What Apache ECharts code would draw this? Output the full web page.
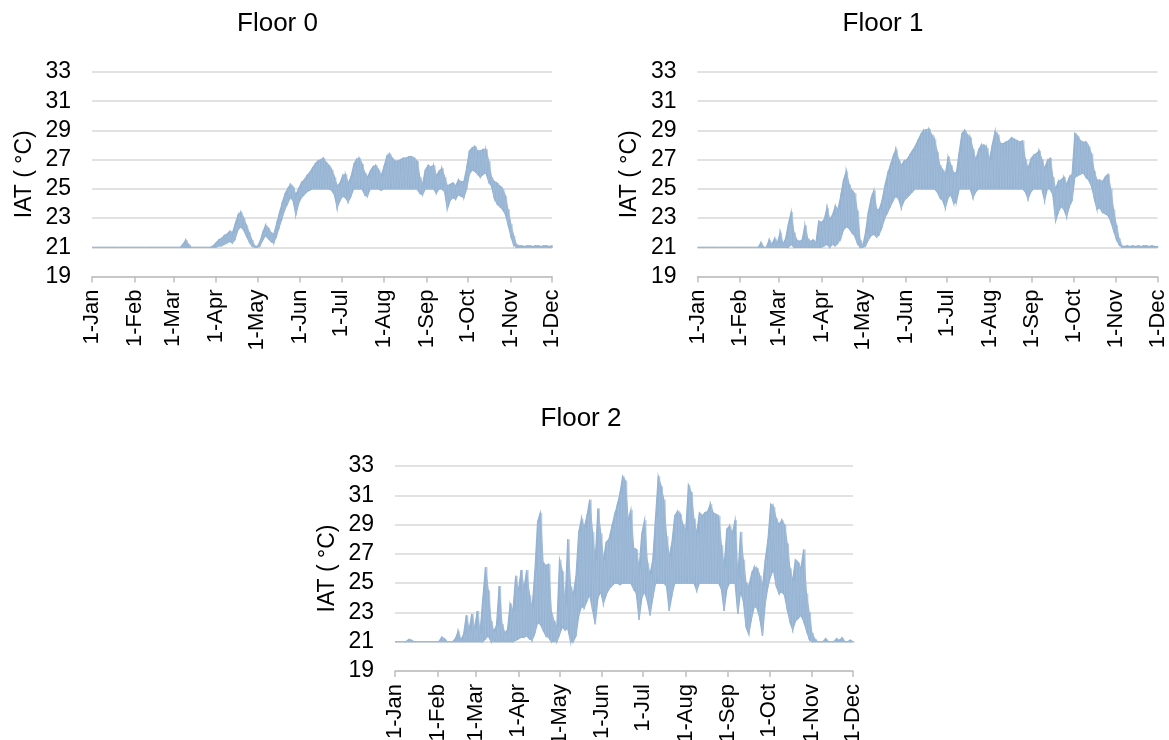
<!DOCTYPE html>
<html>
<head>
<meta charset="utf-8">
<script src="https://cdn.jsdelivr.net/npm/echarts@6/dist/echarts.min.js"></script>
<style>
  html, body { margin: 0; padding: 0; background: #fff; }
  #main { width: 1169px; height: 740px; }
</style>
</head>
<body>
<div id="main"></div>
<script>
// IAT 曲线: 每两天一个 (最低, 最高) 值, 从 1-Jan 开始
var monthDays = [0, 31, 59, 90, 120, 151, 181, 212, 243, 273, 304, 334];
var monthLabels = ['1-Jan', '1-Feb', '1-Mar', '1-Apr', '1-May', '1-Jun', '1-Jul', '1-Aug', '1-Sep', '1-Oct', '1-Nov', '1-Dec'];
var yTicks = [19, 21, 23, 25, 27, 29, 31, 33];
var titles = ['Floor 0', 'Floor 1', 'Floor 2'];

var floor0Low = [
  21,21,21,21,21,21,21,21,21,21,
  21,21,21,21,21,21,21,21,21,21,
  21,21,21,21,21,21,21,21,21,21,
  21,21,21,21,21,21,21,21,21,21,
  21,21,21,21,21,21,21.1,21.1,21.2,21.3,
  21.4,21.3,21.6,22.2,22.4,22.2,21.8,21.4,21.1,21.0,
  21,21.1,21.5,21.8,21.6,21.4,21.3,21.8,22.4,23.0,
  23.6,24.0,24.4,24.2,23.2,24.0,24.4,24.6,24.8,24.9,
  25,25,25,25,25,25,25,24.9,24.6,23.7,
  24.2,24.5,24.4,24.1,24.5,25,25,25,25,24.6,
  24.5,25,25,25,25,24.9,25,25,25,25,
  25,25,25,25,25,25,25,25,25,24.7,
  24.6,25,25,25,25,24.7,25,25,24.8,23.6,
  24.2,24.4,24.3,24.6,24.5,24.4,25.0,26.0,26.3,26.2,
  26.0,25.8,26.0,26.1,25.5,25.2,24.4,24.0,23.8,23.6,
  23.3,22.6,21.8,21.2,21.0,21,21,21,21,21,
  21,21,21,21,21,21,21,21
];
var floor0High = [
  21,21,21,21,21,21,21,21,21,21,
  21,21,21,21,21,21,21,21,21,21,
  21,21,21,21,21,21,21,21,21,21,
  21,21,21,21.2,21.5,21.2,21,21,21,21,
  21,21,21,21,21.1,21.3,21.5,21.6,21.8,21.9,
  22.1,22.0,22.6,23.2,23.4,23.0,22.5,22.0,21.5,21.1,
  21.05,21.4,22.0,22.5,22.3,22.0,21.9,22.6,23.3,24.0,
  24.6,25.0,25.3,25.1,24.6,25.0,25.4,25.6,25.9,26.1,
  26.4,26.7,26.9,27.0,27.1,26.8,26.6,26.3,25.8,25.2,
  25.4,25.9,26.0,25.4,25.8,26.6,27.0,27.1,26.7,26.1,
  25.8,26.2,26.5,26.6,26.3,25.9,26.5,27.2,27.4,27.1,
  26.9,26.9,27.0,27.1,27.1,27.2,27.2,27.1,26.9,25.8,
  25.3,26.3,26.6,26.5,26.6,25.9,26.2,26.4,25.8,25.2,
  25.3,25.4,25.2,25.6,25.5,25.5,26.4,27.6,27.8,27.9,
  27.6,27.6,27.7,27.7,26.9,25.8,25.5,25.4,25.2,25.0,
  24.5,23.6,22.6,21.8,21.2,21.1,21.1,21.05,21.1,21.1,
  21.05,21.1,21.1,21.05,21.1,21.1,21.05,21.1
];

var floor1Low = [
  21,21,21,21,21,21,21,21,21,21,
  21,21,21,21,21,21,21,21,21,21,
  21,21,21,21,21,21,21,21,21,21,
  21,21,21,21,21.2,21,21,21,21,21,
  21,21,21,21,21,21,21.1,21.2,21.0,21.2,
  21.1,21.3,21.6,22.2,22.4,22.3,22.0,21.8,21.3,21.0,
  21,21.1,21.5,21.8,21.9,21.7,21.9,22.4,23.0,23.4,
  23.8,24.2,24.5,24.3,23.7,24.2,24.4,24.6,24.8,25.0,
  25,25,25,25,25,25,25,24.8,24.4,24.2,
  23.7,24.4,24.6,24.0,24.1,25,25,25,25,25,
  24.4,24.8,25,25,25,25,25,25,25,25,
  25,25,25,25,25,25,25,25,25,24.8,
  24.3,24.8,25,25,25,25,24.2,25,25,24.6,
  22.8,23.4,23.8,23.6,23.1,23.8,24.2,25.8,25.9,26.0,
  26.1,25.8,25.6,25.2,24.4,23.6,23.7,23.4,23.3,23.2,
  22.8,22.2,21.6,21.2,21.0,21,21,21,21,21,
  21,21,21,21,21,21,21,21
];
var floor1High = [
  21,21,21,21,21,21,21,21,21,21,
  21,21,21,21,21,21,21,21,21,21,
  21,21,21,21.3,21,21,21.5,21.2,21.6,21.3,
  22.0,21.2,21.6,22.6,23.4,22.0,21.5,21.4,21.5,22.5,
  21.6,21.4,21.5,21.3,22.8,22.7,22.9,23.7,22.9,23.2,
  23.8,23.6,24.5,25.6,26.2,25.3,24.9,24.7,23.5,21.5,
  21.1,22.0,23.4,24.3,24.9,23.6,23.6,24.2,25.2,26.0,
  26.6,27.2,27.7,27.0,26.6,26.9,27.0,27.3,27.6,27.9,
  28.3,28.7,29.0,29.05,29.1,28.7,28.4,27.5,26.6,26.3,
  26.0,27.2,26.6,26.1,26.1,27.5,28.8,29.0,28.7,28.5,
  27.7,27.0,27.6,28.0,28.0,27.8,27.0,28.0,28.9,28.7,
  28.1,28.1,28.2,28.3,28.5,28.4,28.3,28.2,28.3,27.0,
  26.4,27.0,27.3,27.4,27.6,27.0,26.4,26.9,27.1,25.8,
  25.0,25.5,25.6,25.8,25.3,25.8,26.0,28.8,28.6,28.3,
  28.2,28.2,27.9,27.4,26.2,25.6,25.6,25.5,25.8,26.0,
  25.0,23.6,22.5,21.6,21.1,21.05,21.1,21.05,21.1,21.05,
  21.1,21.05,21.1,21.1,21.05,21.1,21.05,21.05
];

var floor2Low = [
  21,21,21,21,21,21,21,21,21,21,
  21,21,21,21,21,21,21,21,21,21,
  21,21,21,21,21,21,21,21,21,21,
  21,21,21,21.2,21.4,21,21,21,21,21,
  21,21,21,21,21.1,21.2,21.3,21.3,21.4,21.2,
  21.1,21.6,22.3,22.2,21.8,21.4,21.3,21.0,21.0,21.0,
  21.5,22.0,21.8,21.9,21.0,21.0,21.4,22.8,23.4,23.3,
  23.8,24.2,23.2,22.2,24.0,24.4,23.6,24.2,24.6,24.8,
  25,25,24.9,25,25,25,25,24.6,24.3,22.5,
  24.0,24.4,23.8,22.8,24.0,25,25,25,25,24.8,
  23.1,24.2,25,25,25,25,25,25,25,25,
  24.5,25,25,25,25,25,25,25,25,24.6,
  23.1,24.6,25,25,25,22.9,24.4,23.8,22.0,21.5,
  22.6,23.4,23.3,22.6,21.4,23.6,24.8,25.5,25.9,24.8,
  24.3,24.4,24.2,23.2,22.4,21.8,22.4,22.6,22.8,22.4,
  21.8,21.2,21.0,21,21,21,21,21,21,21,
  21,21,21,21,21,21,21,21
];
var floor2High = [
  21,21,21,21,21,21.15,21.1,21,21,21,
  21,21,21,21,21,21,21,21.3,21.2,21,
  21,21,21.2,21.7,21.1,21.5,22.8,21.8,22.9,21.9,
  23.1,21.6,23.9,26.1,24.5,22.4,21.7,22.1,24.8,22.2,
  21.6,21.8,23.6,23.1,25.5,24.5,25.9,24.6,25.9,24.2,
  23.3,25.8,29.2,29.8,26.4,26.2,26.3,23.0,22.4,22.0,
  26.6,25.8,23.5,28.0,24.8,24.2,25.5,28.5,29.4,28.8,
  29.6,30.7,28.5,26.6,30.1,28.4,26.6,27.8,28.0,28.8,
  29.6,30.3,31.1,32.3,32.0,29.3,30.0,27.4,27.3,26.0,
  28.4,29.3,26.4,25.6,26.6,29.5,32.3,31.6,30.7,28.2,
  26.8,27.8,29.6,29.9,29.7,29.0,28.6,31.7,31.2,29.4,
  28.4,29.8,29.6,29.8,29.9,30.4,29.8,29.7,29.6,27.6,
  26.1,28.7,28.9,28.4,29.3,25.4,28.5,26.6,25.0,24.8,
  25.6,26.1,26.0,25.5,24.8,26.6,28.0,30.4,30.2,29.4,
  29.0,29.3,29.0,27.7,26.0,25.2,26.6,26.4,26.0,27.3,
  24.3,23.0,21.6,21.2,21,21,21,21.2,21,21,
  21,21.2,21.1,21.25,21,21,21.1,21
];

var lows = [floor0Low, floor1Low, floor2Low];
var highs = [floor0High, floor1High, floor2High];

var font = 'Liberation Sans, Arial, sans-serif';
var lineColor = '#95b3d2';
var streakColor = '#a6c0db';

// 带状区: 每项 [天, 最低, 最高]
function bandData(lo, hi) {
  return lo.map(function (v, k) { return [2 * k, v, hi[k]]; });
}
// 锯齿线: 最低 -> 最高 交替, 模拟逐时波动的竖纹
function zigzag(lo, hi) {
  var pts = [];
  for (var k = 0; k < lo.length; k++) {
    pts.push([2 * k, lo[k]]);
    pts.push([2 * k + 1, hi[k]]);
  }
  return pts;
}
// 相邻两点之间画一个四边形, 坐标都经 api.coord 换算
function makeBandRender(data) {
  return function (params, api) {
    var n = params.dataIndex;
    if (n >= data.length - 1) return null;
    var a = data[n], b = data[n + 1];
    var pts = [
      api.coord([a[0], a[1]]),
      api.coord([b[0], b[1]]),
      api.coord([b[0], b[2]]),
      api.coord([a[0], a[2]])
    ];
    return {
      type: 'polygon',
      shape: { points: pts },
      style: { fill: lineColor, stroke: lineColor, lineWidth: 1.2 }
    };
  };
}

var grids = [
  { left: 92, top: 72, width: 460, height: 204.5, outerBoundsMode: 'none' },
  { left: 697.5, top: 72, width: 460, height: 204.5, outerBoundsMode: 'none' },
  { left: 395, top: 466, width: 458, height: 205, outerBoundsMode: 'none' }
];
var titlePos = [
  { left: 272.5, top: 6 },
  { left: 878, top: 6 },
  { left: 576, top: 401 }
];

var option = {
  animation: false,
  backgroundColor: '#fff',
  title: [],
  grid: grids,
  xAxis: [],
  yAxis: [],
  series: []
};

for (var i = 0; i < 3; i++) {
  var band = bandData(lows[i], highs[i]);
  option.title.push({
    text: titles[i],
    left: titlePos[i].left,
    top: titlePos[i].top,
    textAlign: 'center',
    textStyle: { fontFamily: font, fontSize: 26, fontWeight: 'normal', color: '#000' }
  });
  option.xAxis.push({
    type: 'value',
    gridIndex: i,
    min: 0,
    max: 334,
    splitLine: { show: false },
    axisLine: { show: true, lineStyle: { color: '#bfbfbf', width: 1.5 } },
    axisTick: { show: true, customValues: monthDays, length: 6, lineStyle: { color: '#bfbfbf', width: 1.5 } },
    axisLabel: {
      customValues: monthDays,
      rotate: 90,
      margin: 13,
      fontFamily: font,
      fontSize: 22,
      color: '#000',
      formatter: function (v) {
        var idx = monthDays.indexOf(Math.round(v));
        return idx >= 0 ? monthLabels[idx] : '';
      }
    }
  });
  option.yAxis.push({
    type: 'value',
    gridIndex: i,
    min: yTicks[0],
    max: yTicks[yTicks.length - 1],
    interval: 2,
    name: 'IAT ( °C)',
    nameLocation: 'middle',
    nameGap: 56,
    nameTextStyle: { fontFamily: font, fontSize: 23, color: '#000' },
    axisLine: { show: false },
    axisTick: { show: false },
    splitLine: { lineStyle: { color: '#d9d9d9', width: 1.5 } },
    axisLabel: { fontFamily: font, fontSize: 23, color: '#000', margin: 21 }
  });
  option.series.push({
    type: 'custom',
    xAxisIndex: i,
    yAxisIndex: i,
    data: band,
    encode: { x: 0, y: [1, 2] },
    renderItem: makeBandRender(band),
    silent: true,
    z: 2
  });
  option.series.push({
    type: 'line',
    xAxisIndex: i,
    yAxisIndex: i,
    data: zigzag(lows[i], highs[i]),
    showSymbol: false,
    symbol: 'none',
    clip: true,
    lineStyle: { color: streakColor, width: 0.6 },
    z: 3
  });
}

var myChart = echarts.init(document.getElementById('main'));
myChart.setOption(option);
</script>
</body>
</html>
